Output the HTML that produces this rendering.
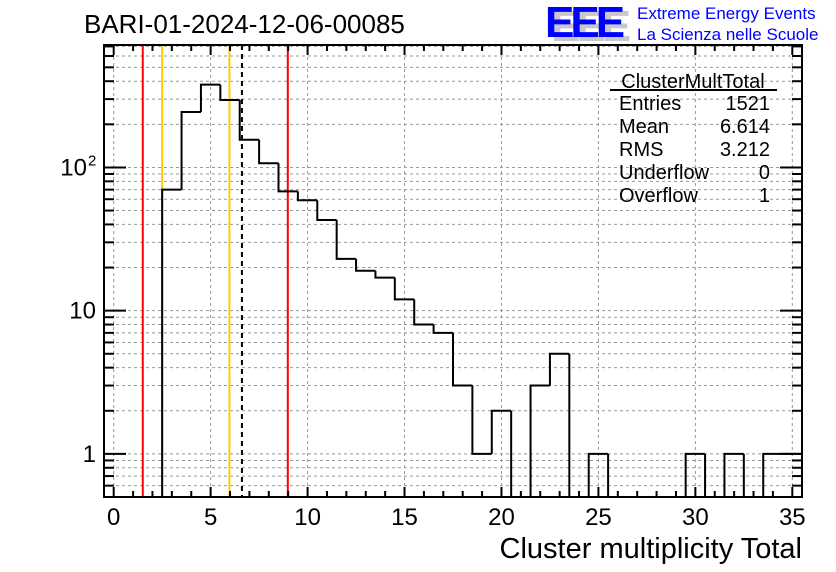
<!DOCTYPE html>
<html><head><meta charset="utf-8"><style>
body{margin:0;background:#fff;width:836px;height:572px;overflow:hidden}
svg{display:block;font-family:"Liberation Sans",Arial,sans-serif}
</style></head><body>
<svg id="c" width="836" height="572"></svg>
<script>
const binLowEdges=[2.5,3.5,4.5,5.5,6.5,7.5,8.5,9.5,10.5,11.5,12.5,13.5,14.5,15.5,16.5,17.5,18.5,19.5,20.5,21.5,22.5,23.5,24.5,25.5,26.5,27.5,28.5,29.5,30.5,31.5,32.5,33.5,34.5];
const binCounts=[70,244,379,296,156,107,68,59,43,23,19,17,12,8,7,3,1,2,0,3,5,0,1,0,0,0,0,1,0,1,0,1,1];
const xTickLabels=[0,5,10,15,20,25,30,35];
const yTickValues=[1,10,100];
const yTickLabels=["1","10","10"];
const vLines=[{x:1.5,c:"#ff0000"},{x:2.5,c:"#ffcc00"},{x:5.97,c:"#ffcc00"},{x:6.614,c:"#000",dash:true},{x:8.98,c:"#ff0000"}];

const L=104,R=802,T=45,B=497,xmin=-0.5,xmax=35.5,ymin=0.5,ymax=716;
const X=v=>L+(v-xmin)/(xmax-xmin)*(R-L);
const Y=v=>B-(Math.log10(v)-Math.log10(ymin))/(Math.log10(ymax)-Math.log10(ymin))*(B-T);
const svg=document.getElementById('c');const NS="http://www.w3.org/2000/svg";
function mk(t,a,p){const e=document.createElementNS(NS,t);for(const k in a)e.setAttribute(k,a[k]);(p||svg).appendChild(e);return e;}
const gg=mk('g',{});


xTickLabels.forEach(v=>mk('line',{x1:X(v),x2:X(v),y1:T,y2:B,stroke:"#999",'stroke-dasharray':"3,3",'stroke-width':1},gg));
const logTicks=[];
for(let d=0.1;d<=100;d*=10)for(let m=1;m<=9;m++){const v=+(m*d).toPrecision(3);if(v>=ymin&&v<=ymax)logTicks.push(v);}
logTicks.forEach(v=>mk('line',{x1:L,x2:R,y1:Y(v),y2:Y(v),stroke:"#999",'stroke-dasharray':"3,3",'stroke-width':1},gg));
vLines.forEach((l,i)=>{const ln=mk('line',{x1:X(l.x),x2:X(l.x),y1:T,y2:B,stroke:l.c,'stroke-width':2,'stroke-dasharray':l.dash?"5,4":"none"});

});
let d="",prev=ymin;
binLowEdges.forEach((e,i)=>{const v=binCounts[i]>0?binCounts[i]:ymin;const y=v<=ymin?B:Y(v);const yp=prev<=ymin?B:Y(prev);
d+=`M${X(e)},${yp}L${X(e)},${y}L${X(e+1)},${y}`;prev=v;});
d+=`M${X(35.5)},${prev<=ymin?B:Y(prev)}L${X(35.5)},${B}`;
const h=mk('path',{d:d,fill:"none",stroke:"#000",'stroke-width':2});


const fr=mk('rect',{x:L,y:T,width:R-L,height:B-T,fill:"none",stroke:"#000",'stroke-width':2});


for(let v=0;v<=35;v++){const len=v%5==0?10:6;
mk('line',{x1:X(v),x2:X(v),y1:B,y2:B-len,stroke:"#000",'stroke-width':2});
mk('line',{x1:X(v),x2:X(v),y1:T,y2:T+len,stroke:"#000",'stroke-width':2});}
xTickLabels.forEach(v=>{const t=mk('text',{x:X(v),y:525,'font-size':24,'text-anchor':"middle"});t.textContent=v;

});
logTicks.forEach(v=>{const maj=yTickValues.includes(v);const len=maj?22:10;
mk('line',{x1:L,x2:L+len,y1:Y(v),y2:Y(v),stroke:"#000",'stroke-width':2});
mk('line',{x1:R,x2:R-len,y1:Y(v),y2:Y(v),stroke:"#000",'stroke-width':2});});
yTickValues.forEach((v,i)=>{const sup=v>=100;const t=mk('text',{x:sup?87:96,y:Y(v)+8,'font-size':24,'text-anchor':"end"});t.textContent=yTickLabels[i];


if(sup){const s=mk('text',{x:88,y:Y(v)-2,'font-size':15});s.textContent="2";

}});
</script>
<svg width="836" height="572" style="position:absolute;left:0;top:0;font-family:'Liberation Sans',Arial,sans-serif">
<text x="802" y="558" font-size="29" text-anchor="end">Cluster multiplicity Total</text>
<text x="84" y="33" font-size="26">BARI-01-2024-12-06-00085</text>
<g>
<text x="551" y="41" font-size="44" font-weight="bold" fill="#c8c8c8" letter-spacing="-4">EEE</text>
<text x="545" y="37" font-size="44" font-weight="bold" fill="#0000ff" letter-spacing="-4">EEE</text>
<text x="637" y="19" font-size="17" fill="#0000ff">Extreme Energy Events</text>
<text x="637" y="40" font-size="17" fill="#0000ff">La Scienza nelle Scuole</text>
</g>
<g font-size="20">
<text x="693" y="88" text-anchor="middle">ClusterMultTotal</text>
<line x1="610" x2="777" y1="90" y2="90" stroke="#000" stroke-width="2"/>
<text x="619" y="110">Entries</text><text x="770" y="110" text-anchor="end">1521</text>
<text x="619" y="133">Mean</text><text x="770" y="133" text-anchor="end">6.614</text>
<text x="619" y="156">RMS</text><text x="770" y="156" text-anchor="end">3.212</text>
<text x="619" y="179">Underflow</text><text x="770" y="179" text-anchor="end">0</text>
<text x="619" y="202">Overflow</text><text x="770" y="202" text-anchor="end">1</text>
</g>
</svg>
</body></html>
